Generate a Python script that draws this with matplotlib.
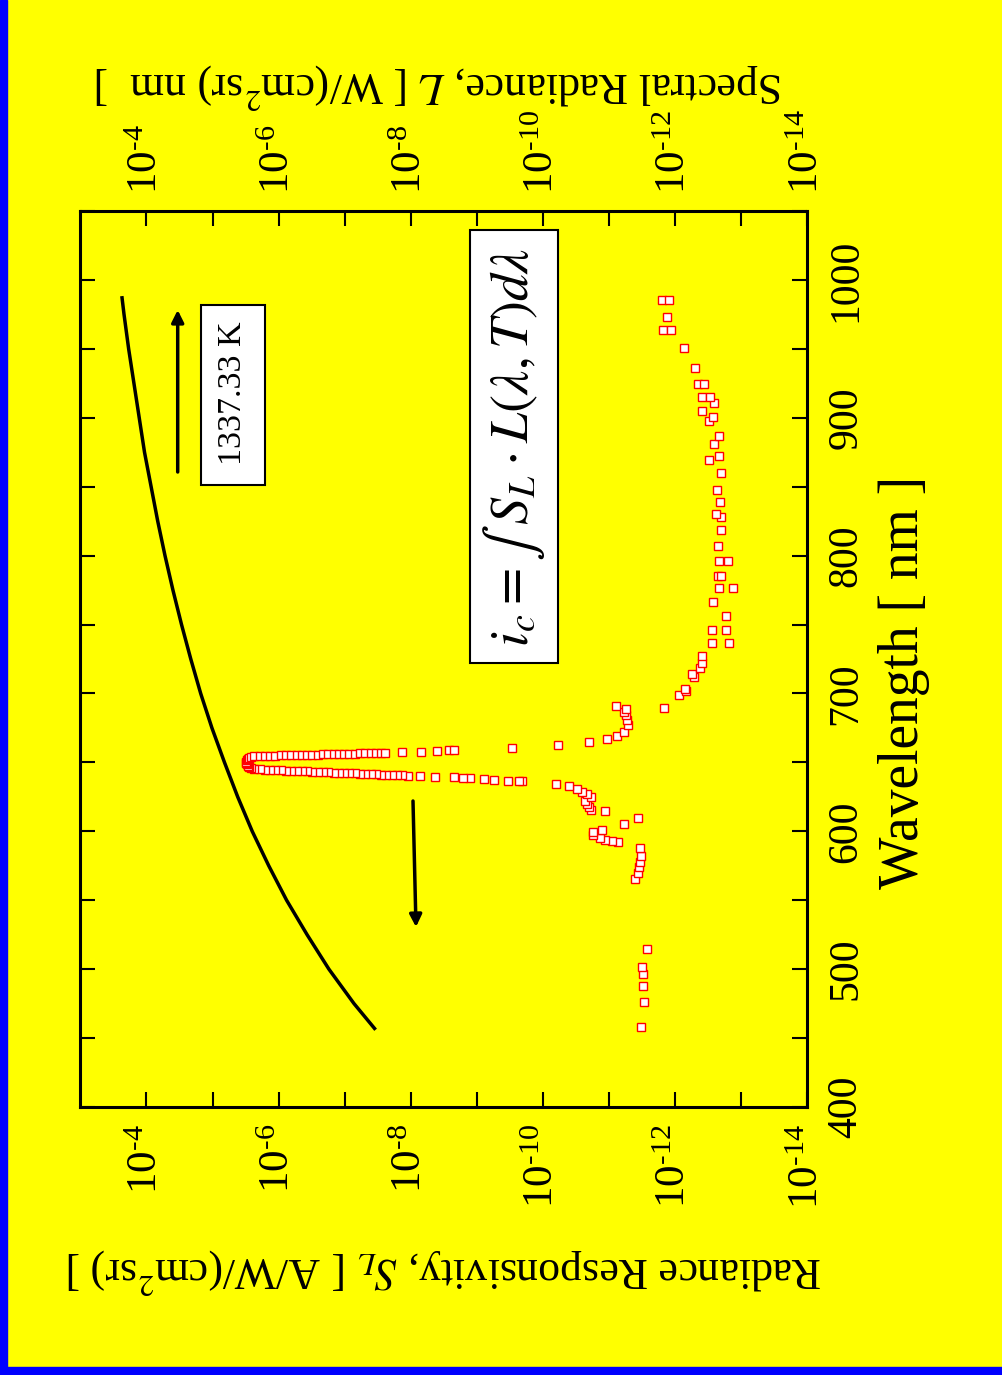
import numpy as np
import matplotlib
matplotlib.use('Agg')
import matplotlib.pyplot as plt
from matplotlib.patches import Rectangle
from matplotlib.ticker import FixedLocator, FixedFormatter, MultipleLocator

plt.rcParams['font.family'] = ['Liberation Serif', 'DejaVu Serif']
plt.rcParams['mathtext.fontset'] = 'stix'
plt.rcParams['axes.unicode_minus'] = False

# blackbody spectral radiance at 1337.33 K (log10 of W/(cm^2 sr nm))
bb_wl  = [457, 475, 500, 525, 550, 575, 600, 625, 650, 675, 700, 725, 750,
          775, 800, 825, 850, 875, 900, 925, 950, 975, 987]
bb_log = [-7.45, -7.14, -6.76, -6.43, -6.12, -5.85, -5.60, -5.38, -5.18, -4.99,
          -4.82, -4.67, -4.53, -4.40, -4.28, -4.17, -4.07, -3.97, -3.89, -3.81,
          -3.73, -3.66, -3.63]

# radiance responsivity (log10 of A/W/(cm^2 sr)), out of band, blue side
blue_wl  = [457.8, 476.4, 488.0, 496.3, 501.6, 514.4, 565.6, 569.7, 573.9, 577.9,
            582.1, 587.7, 592.0, 593.0, 593.7, 594.9, 597.3, 599.3, 600.9, 605.5,
            609.9, 614.7, 615.5, 617.8, 619.8, 622.2, 624.9, 626.8, 628.7, 630.5,
            632.9, 634.3, 636.4, 636.5, 636.7, 637.2, 637.9, 638.4, 638.7, 639.2,
            639.6, 640.1]
blue_log = [-11.48, -11.53, -11.51, -11.52, -11.50, -11.57, -11.39, -11.43, -11.45, -11.47,
            -11.48, -11.47, -11.14, -11.04, -10.94, -10.86, -10.75, -10.76, -10.89, -11.23,
            -11.43, -10.94, -10.73, -10.70, -10.66, -10.64, -10.72, -10.66, -10.59, -10.51,
            -10.40, -10.19, -9.68, -9.63, -9.47, -9.26, -9.10, -8.90, -8.79, -8.65,
            -8.37, -8.14]

# passband (rising edge, top, falling edge)
band_wl  = [640.4, 640.5, 640.7, 640.8, 641.0, 641.1, 641.3, 641.5, 641.6, 641.8,
            642.0, 642.1, 642.3, 642.5, 642.6, 642.8, 642.9, 643.1, 643.3, 643.4,
            643.6, 643.8, 643.9, 644.1, 644.3, 644.4, 644.6, 644.8, 645.0, 645.2,
            645.8, 646.6, 647.5, 648.5, 649.5, 650.5, 651.5, 652.5, 653.4, 654.1,
            654.5, 654.6, 654.7, 654.8, 654.9, 655.0, 655.1, 655.2, 655.3, 655.4,
            655.5, 655.6, 655.7, 655.8, 655.9, 656.0, 656.1, 656.2, 656.3, 656.4,
            656.5, 656.6, 656.7, 656.8, 656.9]
band_log = [-7.95, -7.87, -7.79, -7.71, -7.63, -7.55, -7.47, -7.39, -7.31, -7.23,
            -7.15, -7.07, -6.99, -6.91, -6.83, -6.75, -6.67, -6.59, -6.51, -6.43,
            -6.35, -6.27, -6.19, -6.11, -6.03, -5.95, -5.87, -5.79, -5.71, -5.63,
            -5.58, -5.55, -5.53, -5.52, -5.51, -5.51, -5.52, -5.53, -5.55, -5.58,
            -5.63, -5.71, -5.79, -5.87, -5.95, -6.03, -6.11, -6.19, -6.27, -6.35,
            -6.43, -6.51, -6.59, -6.67, -6.75, -6.83, -6.91, -6.99, -7.07, -7.15,
            -7.23, -7.31, -7.39, -7.47, -7.55]

# out of band, red side
red_wl  = [657.0, 657.3, 657.8, 658.3, 658.8, 658.8, 660.6, 662.9, 665.0, 667.2,
           669.1, 672.3, 677.1, 680.7, 684.4, 686.8, 688.5, 690.9, 689.7, 698.9,
           701.8, 703.0, 712.1, 714.1, 718.2, 721.9, 727.4, 736.6, 736.6, 746.0,
           746.0, 756.2, 766.6, 776.3, 776.3, 785.0, 785.0, 795.9, 795.9, 806.7,
           818.4, 827.8, 830.0, 838.7, 847.8, 859.9, 869.4, 872.5, 881.0, 887.0,
           897.6, 900.5, 905.1, 910.5, 914.8, 914.8, 924.7, 924.7, 936.1, 950.6,
           963.4, 963.4, 973.3, 985.6, 985.6]
red_log = [-7.61, -7.86, -8.16, -8.39, -8.57, -8.66, -9.53, -10.22, -10.69, -10.97,
           -11.12, -11.23, -11.29, -11.27, -11.26, -11.22, -11.26, -11.10, -11.83, -12.06,
           -12.16, -12.15, -12.29, -12.26, -12.38, -12.41, -12.40, -12.56, -12.82, -12.56,
           -12.77, -12.77, -12.57, -12.66, -12.88, -12.65, -12.69, -12.67, -12.80, -12.64,
           -12.69, -12.69, -12.61, -12.68, -12.63, -12.69, -12.51, -12.67, -12.59, -12.66,
           -12.51, -12.57, -12.41, -12.59, -12.40, -12.53, -12.35, -12.43, -12.30, -12.14,
           -11.81, -11.94, -11.87, -11.80, -11.90]

x_major = [-4, -6, -8, -10, -12, -14]
x_minor = [-5, -7, -9, -11, -13]
x_labels = [r'$\mathdefault{10^{\text{-}4}}$', r'$\mathdefault{10^{\text{-}6}}$',
            r'$\mathdefault{10^{\text{-}8}}$', r'$\mathdefault{10^{\text{-}10}}$',
            r'$\mathdefault{10^{\text{-}12}}$', r'$\mathdefault{10^{\text{-}14}}$']

W, H = 1003, 1375
YELLOW = '#ffff00'

def fx(x):
    return x / W

def fy(y):
    return 1 - y / H

fig = plt.figure(figsize=(W / 100, H / 100), dpi=100, facecolor=YELLOW)
ax = fig.add_axes([fx(80.4), fy(1107), (807.4 - 80.4) / W, (1107 - 211) / H])
ax.set_facecolor(YELLOW)

resp_wl = np.array(blue_wl + band_wl + red_wl)
resp_log = np.array(blue_log + band_log + red_log)

ax.plot(10.0 ** np.array(bb_log), bb_wl, color='black', lw=2.5, zorder=2)
ax.plot(10.0 ** resp_log, resp_wl, ls='none', marker='s', ms=6.0,
        mfc='white', mec='red', mew=1.0, zorder=3)

ax.set_xscale('log')
ax.set_xlim(1e-3, 1e-14)
ax.set_ylim(400, 1050)

ax.xaxis.set_major_locator(FixedLocator([10.0 ** e for e in x_major]))
ax.xaxis.set_major_formatter(FixedFormatter(x_labels))
ax.xaxis.set_minor_locator(FixedLocator([10.0 ** e for e in x_minor]))
ax.xaxis.set_minor_formatter(FixedFormatter([''] * len(x_minor)))
ax.yaxis.set_major_locator(MultipleLocator(100))
ax.yaxis.set_minor_locator(MultipleLocator(50))

ax.tick_params(axis='x', which='both', direction='in', top=True, bottom=True,
               labeltop=True, labelbottom=True, length=11, width=1.5,
               labelsize=31, labelrotation=90, pad=12)
ax.tick_params(axis='y', which='both', direction='in', left=True, right=True,
               labelleft=False, labelright=True, length=11, width=1.5,
               labelsize=30, labelrotation=90, pad=14)
for t in ax.yaxis.get_major_ticks():
    t.label2.set_va('center')
for s in ax.spines.values():
    s.set_linewidth(2.2)

# axis titles (chart is drawn turned on its side)
fig.text(fx(904), fy(682), 'Wavelength [ nm ]', rotation=90, fontsize=40,
         ha='center', va='center')
fig.text(fx(445), fy(1272), r'Radiance Responsivity, $S_L$ [ A/W/(cm$^2$sr) ]',
         rotation=180, fontsize=31.5, ha='center', va='center')
fig.text(fx(439), fy(87), r'Spectral Radiance, $L$ [ W/(cm$^2$sr) nm  ]',
         rotation=180, fontsize=31.5, ha='center', va='center')

# annotation boxes
fig.add_artist(Rectangle((fx(200.7), fy(485)), (265 - 200.7) / W, (485 - 305) / H,
                         transform=fig.transFigure, fc='white', ec='black', lw=1.5))
fig.text(fx(233), fy(393), '1337.33 K', rotation=90, fontsize=24.5,
         ha='center', va='center')
fig.add_artist(Rectangle((fx(470), fy(663)), (558 - 470) / W, (663 - 230) / H,
                         transform=fig.transFigure, fc='white', ec='black', lw=1.5))
fig.text(fx(514), fy(447), r'$i_c = \int\;S_L \cdot L(\lambda,T)d\lambda$',
         rotation=90, fontsize=39, ha='center', va='center')

# arrows
arrow = dict(arrowstyle='-|>', color='black', lw=2.5, mutation_scale=18,
             shrinkA=0, shrinkB=0)
ax.annotate('', xy=(fx(177.7), fy(310)), xytext=(fx(177.7), fy(472)),
            xycoords='figure fraction', textcoords='figure fraction', arrowprops=arrow)
ax.annotate('', xy=(fx(416), fy(927)), xytext=(fx(413), fy(801)),
            xycoords='figure fraction', textcoords='figure fraction', arrowprops=arrow)

# blue border strips
fig.add_artist(Rectangle((0, 0), 7 / W, 1, transform=fig.transFigure, color='#0000ff'))
fig.add_artist(Rectangle((0, 0), 1, 8 / H, transform=fig.transFigure, color='#0000ff'))

fig.savefig('out.png', dpi=100, facecolor=fig.get_facecolor())
